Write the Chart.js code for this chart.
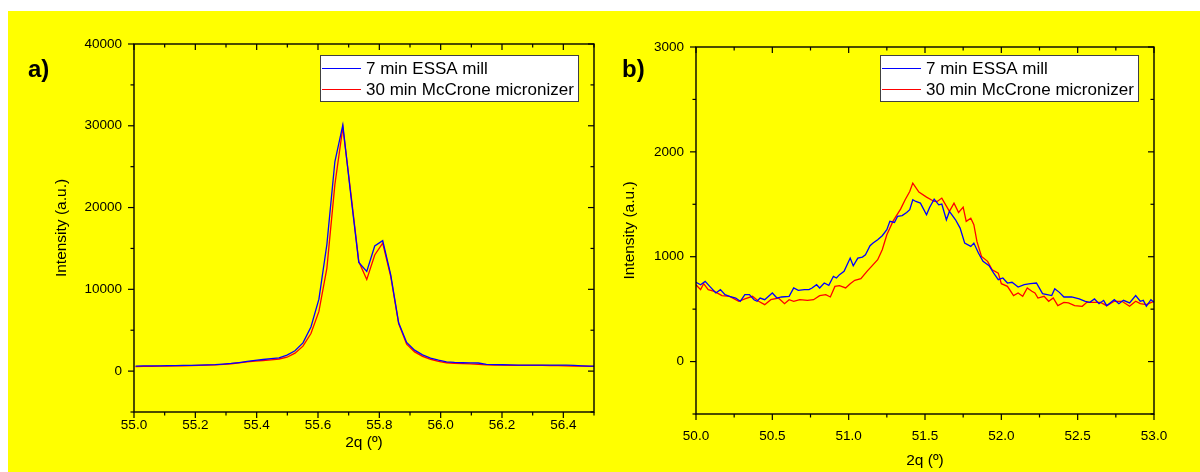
<!DOCTYPE html>
<html><head><meta charset="utf-8">
<script src="https://cdn.jsdelivr.net/npm/chart.js@4.4.1/dist/chart.umd.min.js"></script>
<style>
html,body{margin:0;padding:0;background:#fff;width:1200px;height:472px;overflow:hidden;}
#bg{position:absolute;left:8px;top:11px;width:1192px;height:461px;background:#ffff00;}
.pane{position:absolute;top:0;width:600px;height:472px;}
#pa{left:0}#pb{left:600px}
</style></head><body>
<div id="bg"></div>
<div class="pane" id="pa"><canvas id="ca"></canvas></div>
<div class="pane" id="pb"><canvas id="cb"></canvas></div>
<script>
// ---------- DATA ----------
const seriesNames = ['7 min ESSA mill', '30 min McCrone micronizer'];
const panelLabels = ['a)', 'b)'];
const axisTitleX = '2q (º)';
const axisTitleY = 'Intensity (a.u.)';

// Panel a)
const angleA = [55.005,55.031,55.057,55.083,55.109,55.135,55.161,55.187,55.213,55.239,55.265,55.291,55.317,55.343,55.369,55.395,55.421,55.447,55.473,55.499,55.525,55.551,55.577,55.603,55.629,55.655,55.681,55.707,55.733,55.759,55.785,55.811,55.837,55.863,55.889,55.915,55.941,55.967,55.993,56.019,56.045,56.071,56.097,56.123,56.149,56.175,56.201,56.227,56.253,56.279,56.305,56.331,56.357,56.383,56.409,56.435,56.461,56.487,56.513];
const essaA = [620,630,640,650,660,670,690,710,740,770,800,860,940,1050,1180,1320,1420,1520,1620,1950,2480,3450,5400,8800,15500,25600,30100,21500,13300,12200,15300,15950,11800,5900,3500,2560,1980,1600,1330,1130,1060,1020,1000,990,820,800,780,760,740,740,730,730,740,730,720,690,650,620,610];
const mccroneA = [560,570,590,600,620,640,650,660,690,720,760,820,900,1000,1120,1220,1300,1380,1480,1700,2200,3050,4600,7300,12600,22800,29800,21800,13400,11200,14200,15650,11600,5800,3300,2350,1800,1450,1200,1020,960,920,880,820,760,740,720,700,700,700,700,690,680,660,640,620,600,580,570];
const xTicksA = [55.0,55.2,55.4,55.6,55.8,56.0,56.2,56.4];
const xMinorA = [55.1,55.3,55.5,55.7,55.9,56.1,56.3,56.5];
const yTicksA = [0,10000,20000,30000,40000];
const yMinorA = [-5000,5000,15000,25000,35000];

// Panel b)
const angleB_essa = [50.00,50.03,50.06,50.09,50.13,50.16,50.19,50.22,50.26,50.29,50.32,50.35,50.38,50.40,50.42,50.45,50.47,50.50,50.53,50.56,50.61,50.64,50.67,50.71,50.74,50.76,50.79,50.81,50.84,50.87,50.90,50.92,50.94,50.97,51.01,51.03,51.06,51.09,51.11,51.14,51.16,51.19,51.22,51.25,51.27,51.30,51.32,51.35,51.38,51.40,51.42,51.44,51.47,51.51,51.53,51.56,51.59,51.61,51.64,51.66,51.70,51.73,51.76,51.80,51.82,51.85,51.88,51.92,51.95,51.98,52.01,52.04,52.07,52.11,52.15,52.19,52.23,52.27,52.30,52.33,52.35,52.38,52.41,52.46,52.51,52.55,52.58,52.61,52.64,52.67,52.69,52.74,52.77,52.80,52.84,52.88,52.91,52.93,52.95,52.98,53.00];
const essaB = [756,733,765,717,654,686,638,622,606,575,638,638,590,575,606,590,616,654,606,616,622,702,679,686,686,702,733,702,749,727,813,797,829,860,987,914,987,997,1019,1105,1130,1162,1200,1257,1337,1327,1384,1392,1422,1448,1543,1527,1511,1400,1470,1549,1495,1502,1352,1432,1352,1273,1130,1098,1130,1035,956,914,844,781,797,749,756,711,733,743,749,648,638,629,695,660,616,616,597,575,565,597,552,584,533,590,552,584,559,629,575,584,527,590,565];
const angleB_mcc = [50.00,50.03,50.05,50.08,50.12,50.17,50.22,50.28,50.32,50.37,50.41,50.45,50.49,50.54,50.58,50.61,50.64,50.68,50.73,50.77,50.81,50.85,50.88,50.91,50.94,50.98,51.01,51.04,51.08,51.12,51.15,51.19,51.22,51.25,51.29,51.31,51.34,51.37,51.40,51.42,51.46,51.51,51.56,51.58,51.61,51.66,51.69,51.72,51.75,51.77,51.80,51.82,51.84,51.87,51.91,51.94,51.98,52.00,52.04,52.08,52.11,52.14,52.17,52.20,52.22,52.24,52.28,52.31,52.34,52.37,52.41,52.44,52.48,52.53,52.56,52.60,52.65,52.69,52.74,52.79,52.84,52.88,52.91,52.95,53.00];
const mccroneB = [733,686,743,686,670,629,622,575,597,622,575,543,590,606,552,590,575,590,584,590,629,638,616,717,724,702,743,775,790,860,908,971,1067,1210,1337,1384,1454,1543,1622,1702,1616,1568,1527,1527,1559,1432,1511,1422,1473,1337,1368,1305,1146,1003,956,876,844,743,717,629,654,622,702,670,654,606,622,575,606,533,565,559,533,527,565,565,565,533,575,575,527,575,552,543,575];
const xTicksB = [50.0,50.5,51.0,51.5,52.0,52.5,53.0];
const xMinorB = [50.25,50.75,51.25,51.75,52.25,52.75];
const yTicksB = [0,1000,2000,3000];
const yMinorB = [-500,500,1500,2500];

// ---------- STYLE / HELPERS ----------
const FONT = '"Liberation Sans", Arial, sans-serif';
const BLUE = '#0000ff', RED = '#ff0000';

const framePlugin = {
  id: 'frame',
  afterDatasetsDraw(chart, args, o) {
    const {ctx, chartArea: a, scales: {x, y}} = chart;
    ctx.save();
    ctx.strokeStyle = '#000';
    ctx.lineWidth = 1.4;
    ctx.strokeRect(a.left, a.top, a.right - a.left, a.bottom - a.top);
    ctx.lineWidth = 1.2;
    const seg = (x1, y1, x2, y2) => { ctx.beginPath(); ctx.moveTo(x1, y1); ctx.lineTo(x2, y2); ctx.stroke(); };
    const xt = (vals, len) => vals.forEach(v => { const p = x.getPixelForValue(v); seg(p, a.bottom, p, a.bottom + len); seg(p, a.top, p, a.top + len); });
    const yt = (vals, len) => vals.forEach(v => { const p = y.getPixelForValue(v); seg(a.left - len, p, a.left, p); seg(a.right - len, p, a.right, p); });
    xt(o.xMajor, 6); xt(o.xMinor, 3.5);
    yt(o.yMajor, 6); yt(o.yMinor, 3.5);
    ctx.restore();
  },
  afterDraw(chart, args, o) {
    const ctx = chart.ctx;
    ctx.save();
    // panel label
    ctx.fillStyle = '#000';
    ctx.font = 'bold 24px ' + FONT;
    ctx.textBaseline = 'alphabetic';
    ctx.textAlign = 'left';
    ctx.fillText(o.label, o.labelX, o.labelY);
    // legend box
    const L = o.legend;
    ctx.fillStyle = '#fff';
    ctx.fillRect(L.x, L.y, L.w, L.h);
    ctx.strokeStyle = '#404040';
    ctx.lineWidth = 1;
    ctx.strokeRect(L.x + 0.5, L.y + 0.5, L.w, L.h);
    ctx.font = '17px ' + FONT;
    ctx.textBaseline = 'middle';
    chart.data.datasets.forEach((ds, i) => {
      const cy = L.y + 13.5 + i * 21;
      ctx.strokeStyle = ds.borderColor;
      ctx.lineWidth = 1;
      ctx.beginPath(); ctx.moveTo(L.x + 2, cy); ctx.lineTo(L.x + 41, cy); ctx.stroke();
      ctx.fillStyle = '#000';
      ctx.fillText(ds.label, L.x + 46, cy + 1);
    });
    ctx.restore();
  }
};

function makeChart(canvasId, cfg) {
  const tickFont = {family: FONT, size: 13.5};
  const titleFont = {family: FONT, size: 15.5};
  return new Chart(document.getElementById(canvasId), {
    type: 'line',
    data: {
      datasets: cfg.series.map(s => ({
        label: s.name,
        data: s.xs.map((xv, i) => ({x: xv, y: s.ys[i]})),
        borderColor: s.color,
        borderWidth: 1.3,
        pointRadius: 0,
        fill: false,
        tension: 0
      }))
    },
    plugins: [framePlugin],
    options: {
      responsive: true,
      maintainAspectRatio: false,
      animation: false,
      events: [],
      layout: {padding: cfg.pad},
      plugins: {
        legend: {display: false},
        tooltip: {enabled: false},
        frame: cfg.frame
      },
      scales: {
        x: {
          type: 'linear', min: cfg.xMin, max: cfg.xMax,
          afterBuildTicks: s => { s.ticks = cfg.xMajor.map(v => ({value: v})); },
          afterFit: s => { s.height = cfg.xH; },
          ticks: {callback: v => Number(v).toFixed(1), font: tickFont, color: '#000', padding: cfg.xPad, maxRotation: 0, autoSkip: false},
          grid: {display: false, drawTicks: false},
          border: {display: false},
          title: {display: true, text: axisTitleX, font: titleFont, color: '#000', padding: 0}
        },
        y: {
          type: 'linear', min: cfg.yMin, max: cfg.yMax,
          afterBuildTicks: s => { s.ticks = cfg.yMajor.map(v => ({value: v})); },
          afterFit: s => { s.width = cfg.yW; },
          ticks: {callback: v => String(v), font: tickFont, color: '#000', padding: 12, autoSkip: false},
          grid: {display: false, drawTicks: false},
          border: {display: false},
          title: {display: true, text: axisTitleY, font: titleFont, color: '#000', padding: 0}
        }
      }
    }
  });
}

makeChart('ca', {
  series: [
    {name: seriesNames[0], xs: angleA, ys: essaA, color: BLUE},
    {name: seriesNames[1], xs: angleA, ys: mccroneA, color: RED}
  ],
  xMin: 55.0, xMax: 56.5, yMin: -5000, yMax: 40000,
  xMajor: xTicksA, yMajor: yTicksA,
  pad: {left: 52.7, right: 6, top: 44, bottom: 19.7},
  xH: 40.3, yW: 81.3, xPad: 5,
  frame: {xMajor: xTicksA, xMinor: xMinorA, yMajor: yTicksA, yMinor: yMinorA,
          label: panelLabels[0], labelX: 28, labelY: 77,
          legend: {x: 320, y: 55, w: 258, h: 46}}
});

makeChart('cb', {
  series: [
    {name: seriesNames[0], xs: angleB_essa, ys: essaB, color: BLUE},
    {name: seriesNames[1], xs: angleB_mcc, ys: mccroneB, color: RED}
  ],
  xMin: 50.0, xMax: 53.0, yMin: -500, yMax: 3000,
  xMajor: xTicksB, yMajor: yTicksB,
  pad: {left: 20.7, right: 46, top: 47, bottom: 1.7},
  xH: 56.3, yW: 75.3, xPad: 14,
  frame: {xMajor: xTicksB, xMinor: xMinorB, yMajor: yTicksB, yMinor: yMinorB,
          label: panelLabels[1], labelX: 22, labelY: 77,
          legend: {x: 280, y: 55, w: 258, h: 46}}
});
</script>
</body></html>
